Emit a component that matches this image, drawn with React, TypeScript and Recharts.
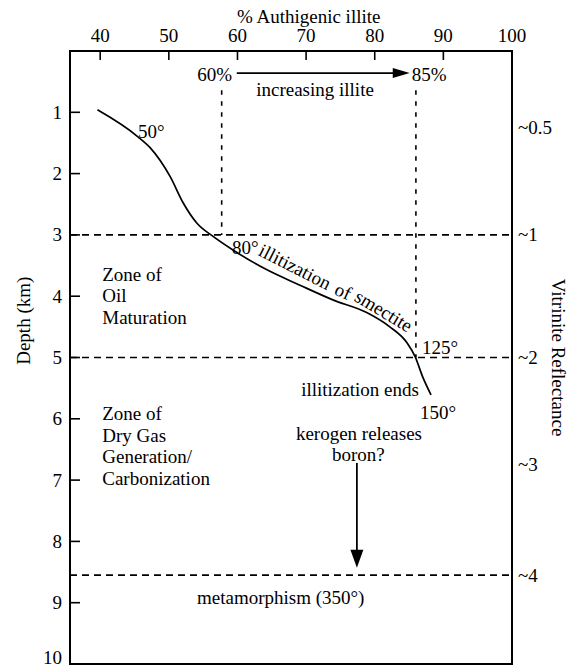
import {
  ComposedChart,
  Line,
  XAxis,
  YAxis,
  ReferenceLine,
  ReferenceDot,
  ReferenceArea,
  Label,
} from "recharts";

// axes
const illiteDomain = [35.6, 100];
const illiteTicks = [40, 50, 60, 70, 80, 90, 100];
const depthTicks = [1, 2, 3, 4, 5, 6, 7, 8, 9, 10];
const reflectanceDepths = [1.25, 3, 5, 6.75, 8.55];
const reflectanceLabels = ["~0.5", "~1", "~2", "~3", "~4"];

// illitization curve (% illite vs depth km)
const curveIllite = [39.6, 45.5, 47.3, 50.2, 52.1, 54.1, 56.4, 59.4, 64.3, 69.1, 73.9, 78.9, 82.2, 84.7, 85.9, 87.0, 88.2];
const curveDepth = [0.96, 1.4, 1.58, 2.05, 2.48, 2.81, 3.02, 3.25, 3.57, 3.82, 4.06, 4.27, 4.5, 4.76, 4.99, 5.32, 5.61];

// zone boundaries and illite markers
const boundaryDepths = [3, 5, 8.55];
const markerIllite = [57.7, 86.0];
const markerTopDepth = 0.64;
const markerBottomDepth = [3, 5];

const arrowRight = { from: 59.9, to: 85.1, depth: 0.36 };
const arrowDown = { illite: 77.4, from: 6.72, to: 8.43 };

const notes = [
  { x: 59.2, d: 0.39, text: "60%", anchor: "end" },
  { x: 85.4, d: 0.39, text: "85%", anchor: "start" },
  { x: 71.3, d: 0.62, text: "increasing illite", anchor: "middle" },
  { x: 45.5, d: 1.32, text: "50°", anchor: "start" },
  { x: 59.2, d: 3.2, text: "80°", anchor: "start" },
  { x: 68.4, d: 3.52, text: "illitization", anchor: "middle", rotate: 27 },
  { x: 75.4, d: 3.92, text: "of", anchor: "middle", rotate: 24 },
  { x: 81.3, d: 4.24, text: "smectite", anchor: "middle", rotate: 31 },
  { x: 86.9, d: 4.83, text: "125°", anchor: "start" },
  { x: 77.85, d: 5.53, text: "illitization ends", anchor: "middle" },
  { x: 86.6, d: 5.9, text: "150°", anchor: "start" },
  { x: 77.7, d: 6.24, text: "kerogen releases", anchor: "middle" },
  { x: 77.6, d: 6.58, text: "boron?", anchor: "middle" },
  { x: 40.3, d: 3.64, text: "Zone of", anchor: "start" },
  { x: 40.3, d: 3.99, text: "Oil", anchor: "start" },
  { x: 40.3, d: 4.34, text: "Maturation", anchor: "start" },
  { x: 40.3, d: 5.92, text: "Zone of", anchor: "start" },
  { x: 40.3, d: 6.27, text: "Dry Gas", anchor: "start" },
  { x: 40.3, d: 6.62, text: "Generation/", anchor: "start" },
  { x: 40.3, d: 6.97, text: "Carbonization", anchor: "start" },
  { x: 66.3, d: 8.91, text: "metamorphism (350°)", anchor: "middle" },
];

const FONT = "'Liberation Serif', 'Times New Roman', serif";
const FS = 19;

const chartData = curveIllite.map((v, i) => ({ illite: v, depth: curveDepth[i] }));

const TopTick = (props: any) => {
  const { x, y, payload } = props;
  return (
    <g>
      <line x1={x} x2={x} y1={y} y2={y + 9} stroke="#000" strokeWidth={1.6} />
      <text x={x} y={y - 16} textAnchor="middle" dominantBaseline="central" fontFamily={FONT} fontSize={FS} fill="#000">
        {payload.value}
      </text>
    </g>
  );
};

const LeftTick = (props: any) => {
  const { x, y, payload } = props;
  // the last label is lifted so it stays inside the picture
  const last = payload.value === depthTicks[depthTicks.length - 1];
  return (
    <g>
      <line x1={x} x2={x + 10} y1={y} y2={y} stroke="#000" strokeWidth={1.6} />
      <text x={x - 8} y={last ? y - 7 : y} textAnchor="end" dominantBaseline="central" fontFamily={FONT} fontSize={FS} fill="#000">
        {payload.value}
      </text>
    </g>
  );
};

const arrowShape = (dir: "right" | "down") => (p: any) => {
  const { x1, y1, x2, y2 } = p;
  const len = dir === "right" ? 17 : 18;
  const half = dir === "right" ? 5 : 6.5;
  const head =
    dir === "right"
      ? `${x2},${y2} ${x2 - len},${y2 - half} ${x2 - len},${y2 + half}`
      : `${x2},${y2} ${x2 - half},${y2 - len} ${x2 + half},${y2 - len}`;
  return (
    <g>
      <line x1={x1} y1={y1} x2={dir === "right" ? x2 - len + 2 : x2} y2={dir === "down" ? y2 - len + 2 : y2} stroke="#000" strokeWidth={1.8} />
      <polygon points={head} fill="#000" />
    </g>
  );
};

const noteText = (text: string, anchor: string, dx = 0, rotate?: number) => (p: any) => (
  <text
    x={p.cx + dx}
    y={p.cy}
    textAnchor={anchor}
    dominantBaseline="central"
    transform={rotate ? `rotate(${rotate} ${p.cx} ${p.cy})` : undefined}
    fontFamily={FONT}
    fontSize={FS}
    fill="#000"
  >
    {text}
  </text>
);

export default function App() {
  return (
    <div style={{ position: "absolute", left: 0, top: 0, background: "#fff" }}>
      <ComposedChart
        width={569}
        height={667}
        data={chartData}
        margin={{ top: 0, right: 0, bottom: 3, left: 0 }}
      >
        <XAxis
          dataKey="illite"
          type="number"
          orientation="top"
          domain={illiteDomain}
          ticks={illiteTicks}
          height={51}
          tickSize={0}
          tickMargin={0}
          axisLine={false}
          tickLine={false}
          tick={<TopTick />}
          interval={0}
        >
          <Label
            content={({ viewBox }: any) => (
              <text
                x={viewBox.x + viewBox.width * 0.54}
                y={viewBox.y + 16}
                textAnchor="middle"
                dominantBaseline="central"
                fontFamily={FONT}
                fontSize={FS}
                fill="#000"
              >
                % Authigenic illite
              </text>
            )}
          />
        </XAxis>
        <YAxis
          type="number"
          domain={[0, 10]}
          reversed
          ticks={depthTicks}
          width={70}
          tickSize={0}
          tickMargin={0}
          axisLine={false}
          tickLine={false}
          tick={<LeftTick />}
          interval={0}
        >
          <Label
            content={({ viewBox }: any) => {
              const cx = viewBox.x + 24;
              const cy = viewBox.y + viewBox.height * 0.44;
              return (
                <text
                  x={cx}
                  y={cy}
                  transform={`rotate(-90 ${cx} ${cy})`}
                  textAnchor="middle"
                  dominantBaseline="central"
                  fontFamily={FONT}
                  fontSize={FS}
                  fill="#000"
                >
                  Depth (km)
                </text>
              );
            }}
          />
        </YAxis>
        <YAxis
          yAxisId="vr"
          orientation="right"
          type="number"
          domain={[0, 10]}
          reversed
          width={57}
          tick={false}
          tickLine={false}
          axisLine={false}
        >
          <Label
            content={({ viewBox }: any) => {
              const cx = viewBox.x + 46;
              const cy = viewBox.y + viewBox.height * 0.5;
              return (
                <text
                  x={cx}
                  y={cy}
                  transform={`rotate(90 ${cx} ${cy})`}
                  textAnchor="middle"
                  dominantBaseline="central"
                  fontFamily={FONT}
                  fontSize={FS}
                  fill="#000"
                >
                  Vitrinite Reflectance
                </text>
              );
            }}
          />
        </YAxis>

        {boundaryDepths.map((d) => (
          <ReferenceLine key={d} y={d} stroke="#000" strokeWidth={1.6} strokeDasharray="7 5" />
        ))}
        {markerIllite.map((x, i) => (
          <ReferenceLine
            key={x}
            segment={[
              { x, y: markerTopDepth },
              { x, y: markerBottomDepth[i] },
            ]}
            stroke="#000"
            strokeWidth={1.6}
            strokeDasharray="4.5 6.5"
          />
        ))}
        <ReferenceLine
          segment={[
            { x: arrowRight.from, y: arrowRight.depth },
            { x: arrowRight.to, y: arrowRight.depth },
          ]}
          shape={arrowShape("right")}
        />
        <ReferenceLine
          segment={[
            { x: arrowDown.illite, y: arrowDown.from },
            { x: arrowDown.illite, y: arrowDown.to },
          ]}
          shape={arrowShape("down")}
        />

        <Line
          dataKey="depth"
          type="monotone"
          stroke="#000"
          strokeWidth={1.7}
          dot={false}
          isAnimationActive={false}
        />

        {/* vitrinite reflectance scale, placed on the right edge of the frame */}
        {reflectanceDepths.map((d, i) => (
          <ReferenceDot
            key={"vr" + i}
            x={illiteDomain[1]}
            y={d}
            r={1}
            ifOverflow="visible"
            shape={noteText(reflectanceLabels[i], "start", 6)}
          />
        ))}

        {notes.map((n, i) => (
          <ReferenceDot
            key={i}
            x={n.x}
            y={n.d}
            r={1}
            ifOverflow="visible"
            shape={noteText(n.text, n.anchor, 0, n.rotate)}
          />
        ))}

        <ReferenceArea
          x1={illiteDomain[0]}
          x2={illiteDomain[1]}
          y1={0}
          y2={10}
          fill="none"
          stroke="#000"
          strokeWidth={2}
          ifOverflow="visible"
        />
      </ComposedChart>
    </div>
  );
}
